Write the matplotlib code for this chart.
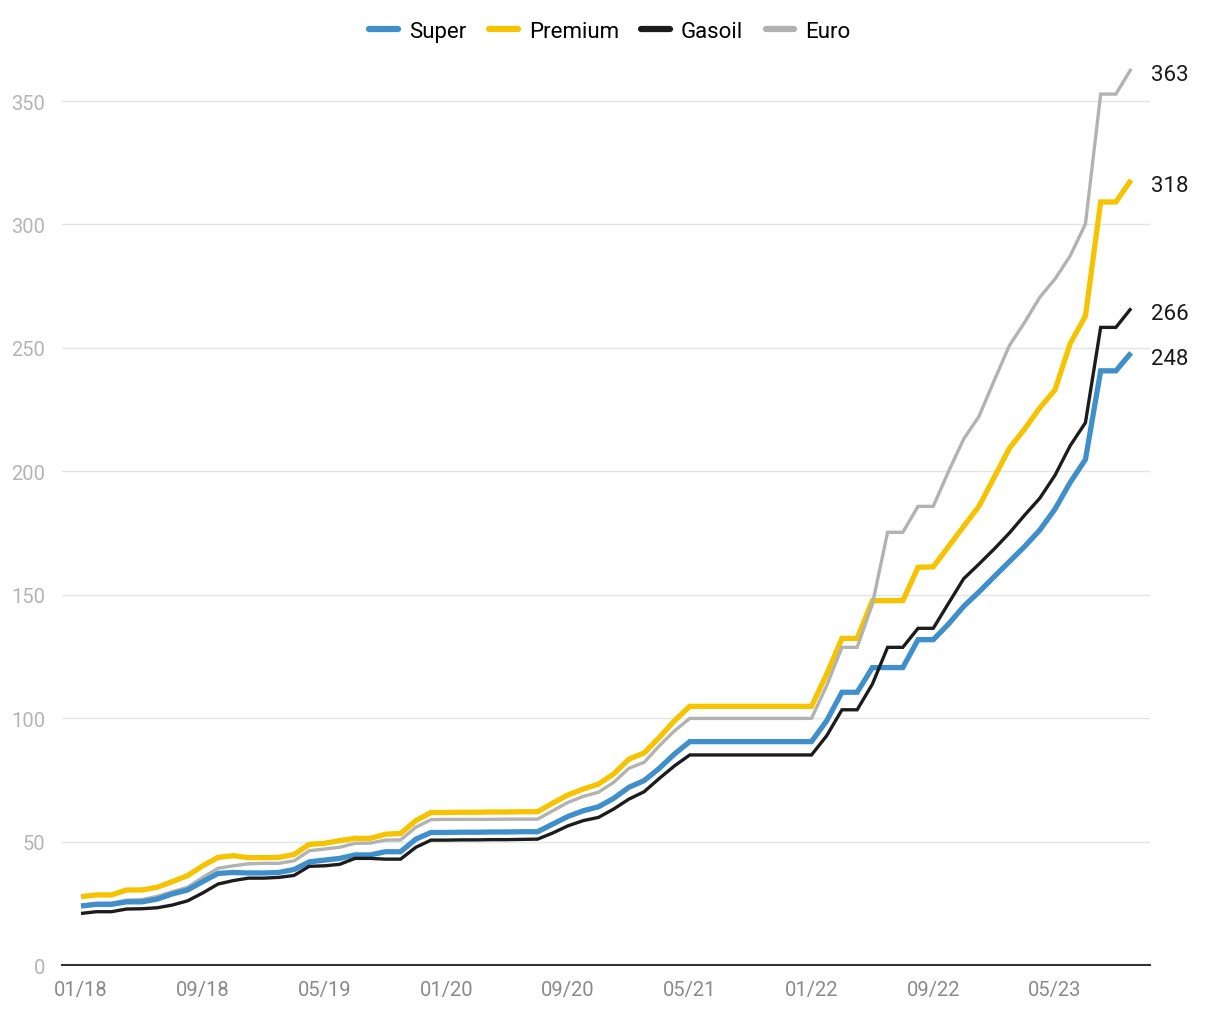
import numpy as np
import pandas as pd
import matplotlib
matplotlib.use("Agg")
import matplotlib.pyplot as plt

# monthly index values, 01/2018 .. 10/2023
months = pd.date_range("2018-01-01", periods=70, freq="MS")

super_ = [23.9, 24.6, 24.6, 25.6, 25.6, 26.7, 28.8, 30.4, 33.8, 37.1,
          37.5, 37.3, 37.3, 37.5, 38.7, 41.8, 42.5, 43.2, 44.6, 44.6,
          45.9, 45.9, 51.0, 53.7, 53.7, 53.8, 53.8, 53.9, 53.9, 54.0,
          54.0, 57.1, 60.2, 62.5, 64.1, 67.5, 72.0, 74.7, 79.7, 85.5,
          90.5, 90.5, 90.5, 90.5, 90.5, 90.5, 90.5, 90.5, 90.5, 99.0,
          110.5, 110.5, 120.5, 120.5, 120.5, 131.8, 131.8, 138.1, 145.3, 151.1,
          157.3, 163.4, 169.5, 176.2, 184.7, 195.5, 204.8, 240.7, 240.7, 248.0]

premium = [27.7, 28.4, 28.4, 30.4, 30.4, 31.5, 33.8, 36.2, 40.2, 43.6,
           44.3, 43.5, 43.5, 43.6, 44.8, 48.9, 49.3, 50.4, 51.3, 51.3,
           53.0, 53.3, 58.5, 61.8, 61.8, 61.9, 61.9, 62.0, 62.0, 62.1,
           62.1, 65.6, 68.9, 71.3, 73.3, 77.4, 83.4, 85.9, 92.2, 99.0,
           104.8, 104.8, 104.8, 104.8, 104.8, 104.8, 104.8, 104.8, 104.8, 117.9,
           132.3, 132.3, 147.6, 147.6, 147.6, 161.1, 161.3, 169.5, 177.7, 185.8,
           197.5, 209.3, 217.1, 225.7, 233.0, 251.8, 262.9, 309.1, 309.1, 318.0]

gasoil = [20.9, 21.6, 21.6, 22.7, 22.8, 23.2, 24.3, 26.0, 29.2, 32.8,
          34.2, 35.2, 35.2, 35.5, 36.3, 40.0, 40.2, 40.8, 43.2, 43.2,
          42.9, 42.9, 47.7, 50.6, 50.6, 50.7, 50.7, 50.8, 50.8, 50.9,
          51.0, 53.5, 56.4, 58.5, 59.8, 63.2, 67.2, 70.2, 75.6, 80.7,
          85.1, 85.1, 85.1, 85.1, 85.1, 85.1, 85.1, 85.1, 85.1, 92.9,
          103.4, 103.4, 113.8, 128.7, 128.7, 136.4, 136.4, 146.5, 156.5, 162.4,
          168.5, 175.0, 182.2, 189.1, 198.4, 210.4, 219.7, 258.3, 258.3, 266.0]

euro = [24.2, 25.0, 25.0, 26.3, 26.5, 27.8, 29.7, 31.5, 35.5, 39.2,
        40.2, 41.0, 41.2, 41.2, 42.2, 46.3, 47.0, 47.7, 49.3, 49.4,
        50.6, 50.7, 55.8, 58.9, 59.0, 59.0, 59.0, 59.0, 59.1, 59.1,
        59.1, 62.5, 65.9, 68.3, 70.0, 74.0, 79.7, 82.1, 88.8, 94.9,
        99.9, 99.9, 99.9, 99.9, 99.9, 99.9, 99.9, 99.9, 99.9, 113.2,
        128.7, 128.7, 146.2, 175.3, 175.3, 185.8, 185.8, 199.9, 213.1, 222.2,
        236.7, 250.9, 260.3, 270.5, 277.9, 287.3, 300.2, 352.8, 352.8, 363.0]

end_labels = ["248", "318", "266", "363"]

plt.rcParams['font.family'] = ['Roboto', 'DejaVu Sans']

fig = plt.figure(figsize=(12.2, 10.2), dpi=100)
ax = fig.add_axes([0.0508, 0.0529, 0.8918, 0.8955])

x = np.arange(len(months))
series = [
    ("Super", super_, "#3f8fcb", 3.8, 3),
    ("Premium", premium, "#f5c300", 3.8, 1),
    ("Gasoil", gasoil, "#1c1c1c", 2.4, 4),
    ("Euro", euro, "#b2b2b2", 2.4, 2),
]
for (name, vals, col, lw, z), lab in zip(series, end_labels):
    ax.plot(x, vals, color=col, lw=lw, label=name, zorder=z,
            solid_joinstyle="miter", solid_capstyle="butt")
    ax.annotate(lab, (x[-1], vals[-1]), xytext=(14, -4),
                textcoords="offset points", fontsize=16, color="#1a1a1a",
                va="center", ha="left", annotation_clip=False)

ax.set_xlim(-1.25, 70.24)
ax.set_ylim(0, 370)
ax.set_yticks(range(0, 351, 50))
ax.set_xticks(x[::8])
ax.set_xticklabels([m.strftime("%m/%y") for m in months[::8]])

ax.grid(axis="y", color="#e4e4e4", lw=1)
ax.set_axisbelow(True)
for s in ["top", "right", "left"]:
    ax.spines[s].set_visible(False)
ax.spines["bottom"].set_color("#333333")
ax.spines["bottom"].set_linewidth(1.5)
ax.spines["bottom"].set_zorder(5)
ax.tick_params(axis="y", length=0, pad=12, labelsize=14.5, labelcolor="#b4b4b4")
ax.tick_params(axis="x", length=0, pad=11, labelsize=14.5, labelcolor="#8a8a8a")

leg = fig.legend(loc="upper center", bbox_to_anchor=(0.5, 0.998), ncol=4,
                 frameon=False, fontsize=16, handlelength=1.3,
                 columnspacing=1.0, handletextpad=0.5)
for h in leg.get_lines():
    h.set_linewidth(4.5)
    h.set_solid_capstyle("round")

fig.savefig("out.png", dpi=100)
